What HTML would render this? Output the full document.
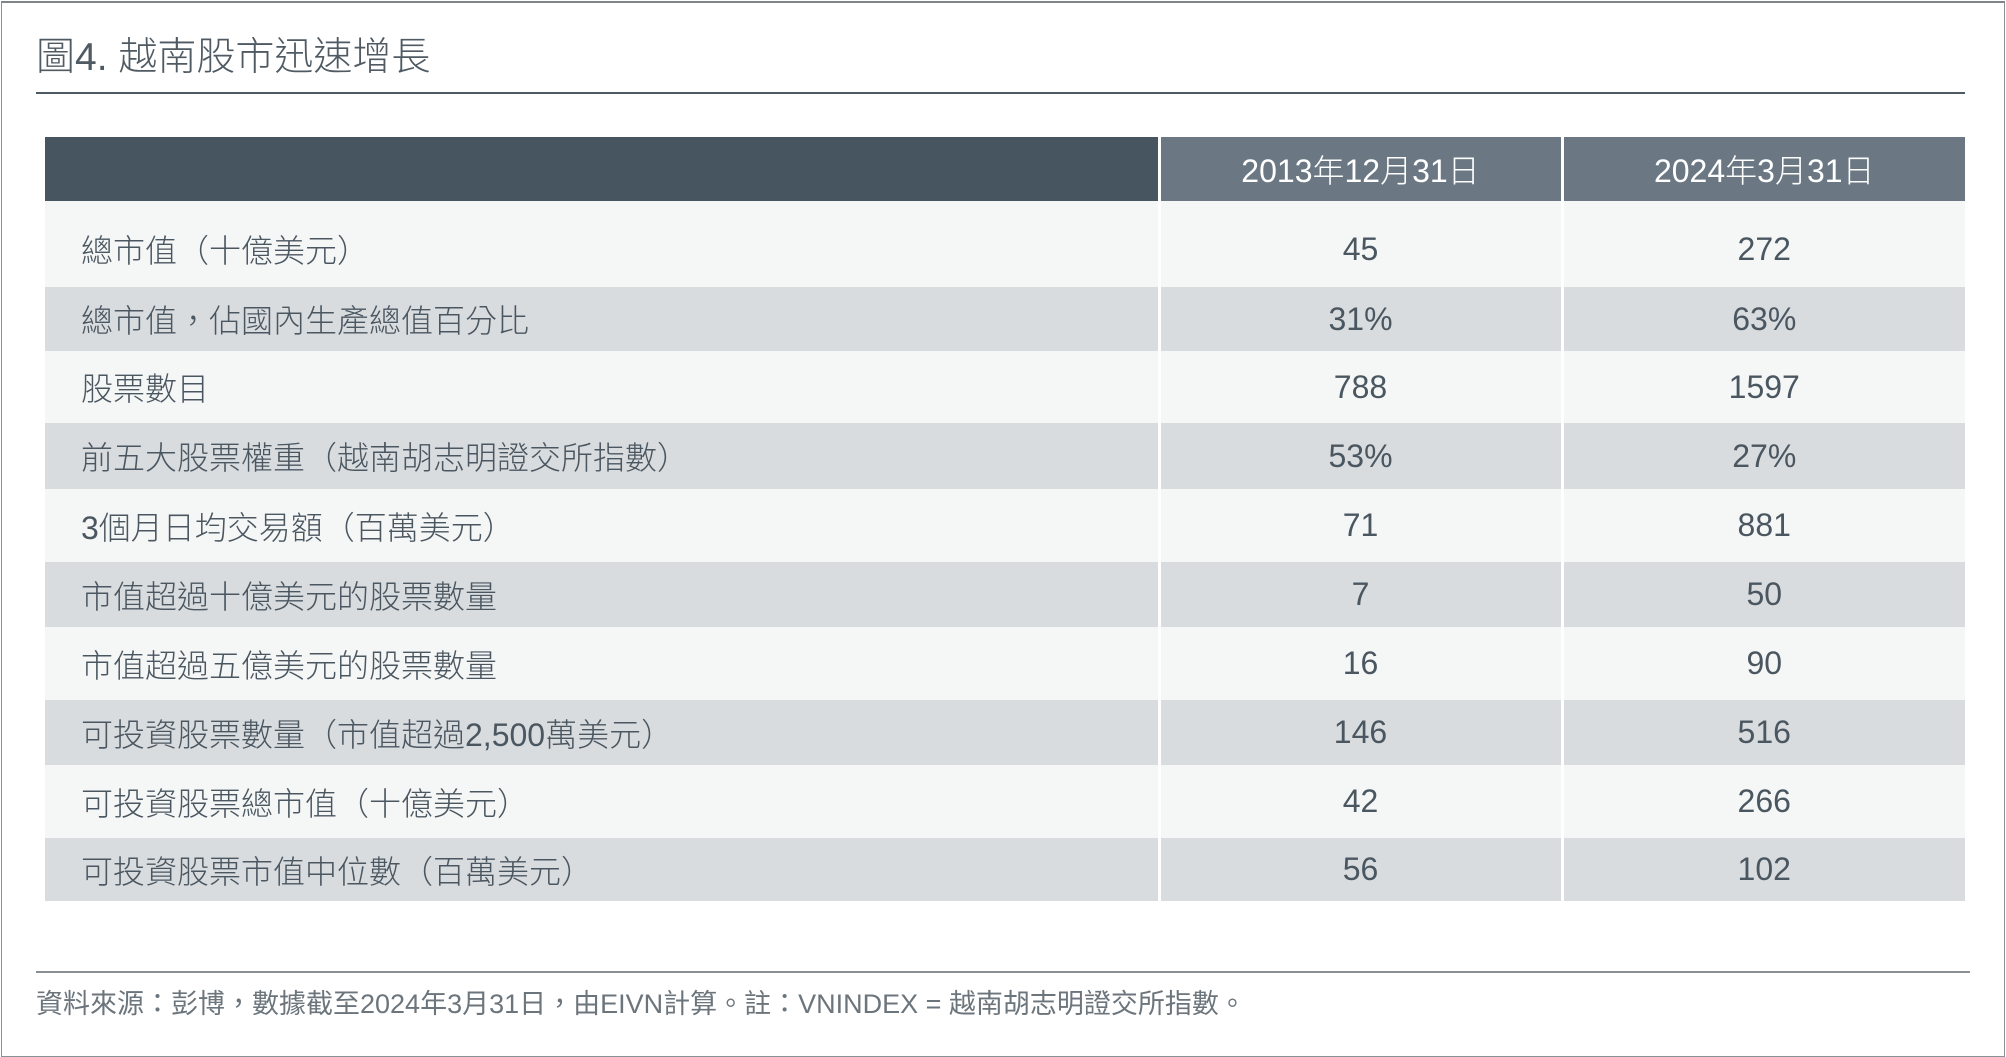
<!DOCTYPE html>
<html><head><meta charset="utf-8"><style>
body{margin:0;width:2006px;height:1057px;background:#fff;position:relative;overflow:hidden;font-family:"Liberation Sans Narrow","Liberation Sans","Noto Sans CJK TC",sans-serif;color:#4a5660}
.frame{position:absolute;left:1px;top:1px;width:2002px;height:1053px;border:1px solid #8a9196;border-top:2px solid #7d8589}
.title{position:absolute;left:36px;top:26px;font-size:39px;font-weight:300;color:#4f5a63;white-space:nowrap}
.tl{position:absolute;left:36px;top:92px;width:1929px;height:2px;background:#4e5a63}
table{position:absolute;left:45px;top:137px;width:1920px;border-collapse:collapse;table-layout:fixed}
td{padding:0;font-size:32px;vertical-align:middle;font-weight:300}
td.l{padding-left:36px}
td.n{text-align:center;border-left:3px solid #fff}
tr.h td{height:64px;background:#46555f;color:#fff}
tr.h td.n{background:#6b7883}
tr.a td{background:#f5f6f6}
tr.b td{background:#d9dcdf}
tr.first td{padding-top:10px}
.fl{position:absolute;left:36px;top:971px;width:1934px;height:2px;background:#8a8f93}
.foot{position:absolute;left:36px;top:982px;font-size:27px;color:#6c757c;white-space:nowrap}
</style></head><body>
<div class="frame"></div>
<div class="title">圖4. 越南股市迅速增長</div>
<div class="tl"></div>
<table>
<colgroup><col style="width:1114px"><col style="width:403px"><col style="width:403px"></colgroup>
<tr class="h"><td></td><td class="n">2013年12月31日</td><td class="n">2024年3月31日</td></tr>
<tr class="a first" style="height:86px"><td class="l">總市值（十億美元）</td><td class="n">45</td><td class="n">272</td></tr>
<tr class="b" style="height:64px"><td class="l">總市值，佔國內生產總值百分比</td><td class="n">31%</td><td class="n">63%</td></tr>
<tr class="a" style="height:72px"><td class="l">股票數目</td><td class="n">788</td><td class="n">1597</td></tr>
<tr class="b" style="height:66px"><td class="l">前五大股票權重（越南胡志明證交所指數）</td><td class="n">53%</td><td class="n">27%</td></tr>
<tr class="a" style="height:73px"><td class="l">3個月日均交易額（百萬美元）</td><td class="n">71</td><td class="n">881</td></tr>
<tr class="b" style="height:65px"><td class="l">市值超過十億美元的股票數量</td><td class="n">7</td><td class="n">50</td></tr>
<tr class="a" style="height:73px"><td class="l">市值超過五億美元的股票數量</td><td class="n">16</td><td class="n">90</td></tr>
<tr class="b" style="height:65px"><td class="l">可投資股票數量（市值超過2,500萬美元）</td><td class="n">146</td><td class="n">516</td></tr>
<tr class="a" style="height:73px"><td class="l">可投資股票總市值（十億美元）</td><td class="n">42</td><td class="n">266</td></tr>
<tr class="b" style="height:63px"><td class="l">可投資股票市值中位數（百萬美元）</td><td class="n">56</td><td class="n">102</td></tr>
</table>
<div class="fl"></div>
<div class="foot">資料來源：彭博，數據截至2024年3月31日，由EIVN計算。註：VNINDEX = 越南胡志明證交所指數。</div>
</body></html>
